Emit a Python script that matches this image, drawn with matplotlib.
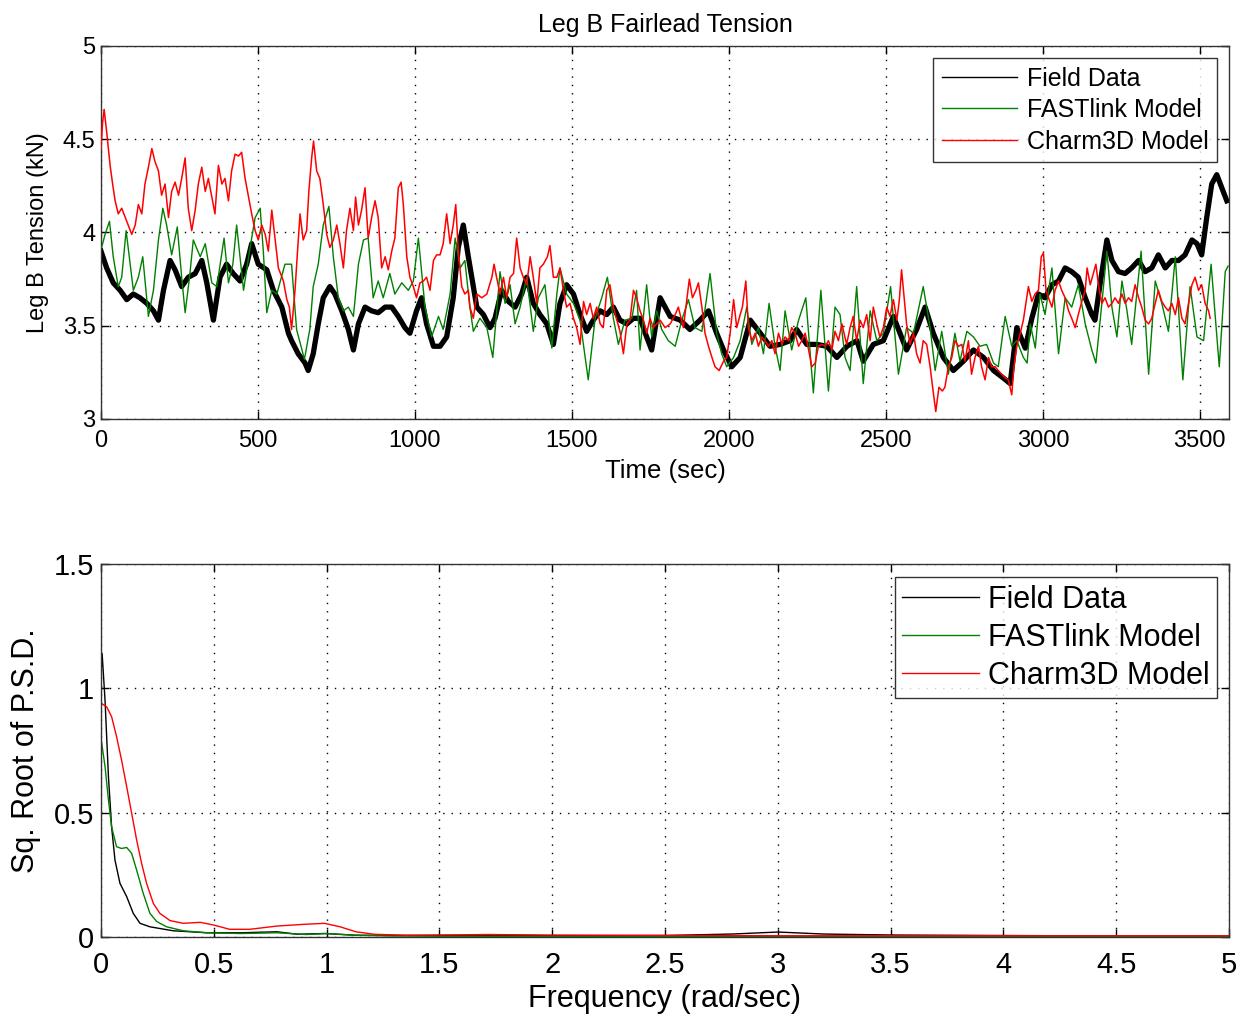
import matplotlib
matplotlib.use("Agg")
import matplotlib.pyplot as plt

plt.rcParams['font.family'] = ['Liberation Sans', 'DejaVu Sans']

# ---------------- Top panel data (time in sec, tension in kN) ----------------
field_t = [0, 18, 39, 61, 82, 103, 124, 146, 167, 183, 199, 220, 236, 257, 278, 300, 321, 337, 358, 379,
           400, 421, 443, 464, 480, 501, 528, 549, 576, 597, 607, 628, 650, 660, 676, 692, 708, 729, 745, 767,
           788, 804, 820, 841, 862, 883, 905, 926, 947, 968, 984, 1005, 1021, 1037, 1059, 1080, 1101, 1122, 1138, 1154,
           1170, 1197, 1218, 1239, 1255, 1276, 1298, 1319, 1340, 1356, 1377, 1398, 1420, 1441, 1462, 1483, 1505, 1526, 1547, 1568,
           1590, 1611, 1632, 1653, 1675, 1696, 1717, 1738, 1754, 1781, 1813, 1845, 1876, 1908, 1935, 1961, 1983, 2009, 2036, 2068,
           2100, 2131, 2163, 2195, 2216, 2248, 2280, 2312, 2344, 2376, 2408, 2428, 2460, 2492, 2524, 2566, 2598, 2625, 2651, 2683,
           2715, 2747, 2779, 2811, 2843, 2874, 2896, 2917, 2944, 2965, 2986, 3007, 3029, 3050, 3071, 3092, 3113, 3135, 3156, 3166,
           3182, 3204, 3220, 3241, 3262, 3283, 3305, 3326, 3347, 3368, 3390, 3411, 3432, 3453, 3475, 3491, 3506, 3522, 3538, 3554,
           3570, 3586]
field_v = [3.90, 3.81, 3.73, 3.69, 3.64, 3.67, 3.65, 3.62, 3.58, 3.53, 3.69, 3.85, 3.80, 3.71, 3.76, 3.78, 3.85, 3.73, 3.53, 3.76,
           3.83, 3.78, 3.74, 3.83, 3.94, 3.83, 3.80, 3.69, 3.60, 3.46, 3.42, 3.35, 3.30, 3.26, 3.35, 3.51, 3.65, 3.71, 3.67, 3.58,
           3.48, 3.37, 3.51, 3.60, 3.58, 3.57, 3.60, 3.60, 3.55, 3.49, 3.46, 3.58, 3.65, 3.51, 3.39, 3.39, 3.44, 3.65, 3.92, 4.04,
           3.87, 3.60, 3.56, 3.49, 3.54, 3.69, 3.63, 3.60, 3.67, 3.76, 3.62, 3.56, 3.51, 3.40, 3.62, 3.72, 3.67, 3.56, 3.47, 3.53,
           3.58, 3.56, 3.60, 3.53, 3.51, 3.54, 3.54, 3.44, 3.37, 3.65, 3.55, 3.53, 3.48, 3.53, 3.58, 3.46, 3.37, 3.28, 3.33, 3.53,
           3.46, 3.39, 3.40, 3.42, 3.48, 3.40, 3.40, 3.39, 3.33, 3.39, 3.42, 3.31, 3.40, 3.42, 3.55, 3.37, 3.48, 3.60, 3.46, 3.33,
           3.26, 3.31, 3.37, 3.33, 3.26, 3.22, 3.19, 3.49, 3.38, 3.54, 3.67, 3.65, 3.72, 3.74, 3.81, 3.79, 3.76, 3.65, 3.56, 3.53,
           3.72, 3.96, 3.85, 3.79, 3.78, 3.81, 3.85, 3.79, 3.81, 3.88, 3.81, 3.85, 3.85, 3.88, 3.96, 3.94, 3.88, 4.08, 4.26, 4.31,
           4.24, 4.17]

fast_t = [2, 13, 27, 39, 55, 66, 80, 93, 103, 119, 133, 151, 167, 183, 197, 209, 225, 243, 257, 268,
          282, 294, 316, 332, 353, 369, 392, 406, 420, 432, 454, 475, 491, 507, 517, 528, 544, 560, 586, 607,
          623, 648, 665, 676, 692, 708, 726, 740, 756, 772, 788, 804, 820, 836, 851, 867, 883, 899, 920, 936,
          958, 979, 995, 1011, 1032, 1053, 1075, 1090, 1112, 1128, 1144, 1159, 1175, 1186, 1207, 1229, 1248, 1271, 1287, 1303,
          1319, 1335, 1356, 1377, 1393, 1414, 1436, 1452, 1462, 1483, 1505, 1526, 1552, 1574, 1595, 1613, 1632, 1648, 1669, 1691,
          1706, 1717, 1738, 1754, 1770, 1786, 1807, 1829, 1850, 1871, 1892, 1914, 1940, 1961, 1977, 1993, 2015, 2036, 2057, 2073,
          2094, 2110, 2128, 2147, 2163, 2179, 2200, 2222, 2245, 2269, 2293, 2317, 2338, 2354, 2370, 2386, 2407, 2428, 2450, 2471,
          2492, 2515, 2540, 2566, 2588, 2619, 2641, 2657, 2678, 2699, 2720, 2736, 2758, 2779, 2800, 2821, 2843, 2858, 2880, 2901,
          2917, 2938, 2950, 2960, 2976, 2991, 3007, 3029, 3050, 3071, 3092, 3113, 3135, 3156, 3169, 3188, 3204, 3220, 3236, 3252,
          3268, 3283, 3313, 3337, 3358, 3379, 3400, 3422, 3446, 3469, 3491, 3512, 3536, 3562, 3581, 3590]
fast_v = [3.92, 3.99, 4.06, 3.87, 3.71, 3.76, 4.01, 3.83, 3.69, 3.76, 3.87, 3.55, 3.69, 3.96, 4.13, 4.04, 3.88, 4.03, 3.76, 3.57,
          3.76, 3.96, 3.87, 3.94, 3.73, 3.71, 3.97, 3.73, 3.83, 4.04, 3.69, 3.92, 4.08, 4.13, 3.90, 3.57, 3.69, 3.67, 3.83, 3.83,
          3.48, 3.32, 3.48, 3.71, 3.83, 4.04, 4.14, 3.87, 3.65, 3.58, 3.60, 3.55, 3.83, 3.96, 3.97, 3.65, 3.74, 3.65, 3.78, 3.67,
          3.73, 3.69, 3.74, 3.97, 3.60, 3.44, 3.55, 3.48, 3.67, 3.97, 3.81, 3.85, 3.60, 3.47, 3.54, 3.49, 3.33, 3.79, 3.62, 3.72,
          3.51, 3.60, 3.76, 3.47, 3.65, 3.72, 3.38, 3.67, 3.81, 3.67, 3.62, 3.53, 3.21, 3.54, 3.65, 3.76, 3.54, 3.40, 3.53, 3.54,
          3.69, 3.37, 3.72, 3.44, 3.58, 3.48, 3.42, 3.39, 3.53, 3.64, 3.49, 3.47, 3.78, 3.46, 3.35, 3.28, 3.33, 3.42, 3.60, 3.40,
          3.49, 3.35, 3.62, 3.39, 3.26, 3.58, 3.37, 3.53, 3.65, 3.14, 3.69, 3.15, 3.60, 3.56, 3.33, 3.26, 3.71, 3.19, 3.58, 3.42,
          3.46, 3.71, 3.24, 3.49, 3.46, 3.71, 3.49, 3.26, 3.47, 3.24, 3.46, 3.31, 3.47, 3.44, 3.39, 3.40, 3.30, 3.28, 3.55, 3.39,
          3.42, 3.33, 3.30, 3.51, 3.38, 3.67, 3.56, 3.81, 3.35, 3.65, 3.60, 3.72, 3.51, 3.37, 3.30, 3.62, 3.90, 3.60, 3.44, 3.74,
          3.58, 3.40, 3.90, 3.24, 3.74, 3.62, 3.47, 3.87, 3.21, 3.71, 3.44, 3.42, 3.83, 3.28, 3.79, 3.82]

charm_t = [0, 5, 10, 18, 29, 37, 45, 55, 66, 82, 98, 109, 119, 130, 140, 151, 162, 172, 183, 193,
           204, 215, 225, 236, 247, 257, 268, 278, 289, 300, 310, 321, 332, 342, 353, 363, 374, 385, 395, 406,
           416, 427, 438, 448, 459, 470, 480, 491, 501, 512, 523, 533, 544, 555, 565, 581, 592, 600, 607, 618,
           626, 634, 644, 655, 662, 671, 677, 687, 697, 708, 719, 729, 740, 751, 761, 772, 782, 793, 804, 811,
           820, 830, 841, 851, 862, 873, 883, 894, 905, 915, 926, 936, 947, 956, 963, 974, 984, 995, 1005, 1016,
           1027, 1037, 1048, 1059, 1069, 1080, 1090, 1101, 1112, 1122, 1130, 1138, 1149, 1159, 1170, 1175, 1186, 1197, 1213, 1229,
           1245, 1252, 1260, 1271, 1282, 1292, 1303, 1314, 1324, 1335, 1345, 1356, 1367, 1377, 1388, 1398, 1409, 1422, 1430, 1441,
           1452, 1462, 1473, 1483, 1494, 1505, 1515, 1526, 1537, 1547, 1558, 1568, 1579, 1590, 1600, 1611, 1621, 1632, 1643, 1653,
           1664, 1675, 1685, 1696, 1706, 1717, 1728, 1738, 1749, 1759, 1781, 1797, 1813, 1829, 1839, 1855, 1866, 1874, 1884, 1895,
           1903, 1914, 1924, 1935, 1946, 1956, 1969, 1983, 1993, 2004, 2015, 2025, 2036, 2043, 2054, 2062, 2073, 2084, 2094, 2105,
           2115, 2126, 2137, 2147, 2158, 2169, 2179, 2190, 2200, 2211, 2222, 2232, 2243, 2254, 2264, 2275, 2285, 2296, 2307, 2317,
           2328, 2338, 2349, 2360, 2375, 2386, 2396, 2407, 2418, 2428, 2439, 2450, 2460, 2471, 2481, 2492, 2503, 2513, 2524, 2535,
           2543, 2550, 2559, 2566, 2577, 2588, 2598, 2609, 2619, 2630, 2641, 2649, 2659, 2669, 2680, 2688, 2699, 2710, 2720, 2731,
           2742, 2752, 2763, 2773, 2784, 2795, 2805, 2816, 2827, 2837, 2848, 2858, 2869, 2880, 2890, 2901, 2908, 2917, 2928, 2938,
           2954, 2965, 2975, 2986, 2995, 3002, 3010, 3018, 3029, 3039, 3050, 3060, 3071, 3082, 3092, 3103, 3113, 3124, 3135, 3141,
           3151, 3161, 3169, 3177, 3188, 3198, 3209, 3220, 3230, 3241, 3252, 3262, 3273, 3283, 3294, 3305, 3315, 3326, 3337, 3347,
           3358, 3368, 3379, 3390, 3400, 3411, 3422, 3432, 3443, 3453, 3464, 3475, 3485, 3496, 3506, 3517, 3528, 3533]
charm_v = [4.45, 4.59, 4.66, 4.54, 4.36, 4.26, 4.17, 4.10, 4.13, 4.06, 3.99, 4.04, 4.15, 4.10, 4.26, 4.35, 4.45, 4.38, 4.33, 4.20,
           4.26, 4.08, 4.22, 4.27, 4.20, 4.29, 4.40, 4.13, 4.01, 4.12, 4.26, 4.35, 4.22, 4.29, 4.19, 4.10, 4.36, 4.26, 4.29, 4.17,
           4.33, 4.42, 4.41, 4.43, 4.29, 4.19, 4.10, 4.01, 3.96, 4.04, 3.99, 3.90, 4.12, 3.96, 3.81, 3.74, 3.64, 3.60, 3.48, 3.69,
           3.90, 4.10, 3.96, 4.01, 4.22, 4.40, 4.49, 4.33, 4.29, 4.15, 3.99, 3.92, 3.96, 4.04, 3.94, 3.81, 4.01, 4.13, 4.01, 4.19,
           4.04, 4.12, 4.24, 3.97, 4.08, 4.17, 4.08, 3.81, 3.87, 3.80, 3.90, 3.97, 4.24, 4.27, 4.15, 3.87, 3.76, 3.71, 3.65, 3.73,
           3.74, 3.76, 3.69, 3.85, 3.88, 3.88, 3.94, 4.10, 3.94, 4.04, 4.15, 3.90, 3.71, 3.67, 3.69, 3.60, 3.54, 3.67, 3.65, 3.67,
           3.76, 3.83, 3.76, 3.67, 3.76, 3.65, 3.76, 3.78, 3.97, 3.81, 3.76, 3.72, 3.87, 3.76, 3.62, 3.81, 3.83, 3.87, 3.93, 3.76,
           3.76, 3.81, 3.69, 3.60, 3.62, 3.54, 3.49, 3.40, 3.63, 3.56, 3.62, 3.54, 3.60, 3.51, 3.49, 3.69, 3.72, 3.60, 3.53, 3.47,
           3.35, 3.51, 3.53, 3.69, 3.65, 3.58, 3.53, 3.46, 3.54, 3.49, 3.53, 3.49, 3.51, 3.56, 3.60, 3.49, 3.64, 3.75, 3.65, 3.69,
           3.73, 3.60, 3.46, 3.39, 3.33, 3.28, 3.26, 3.31, 3.33, 3.46, 3.64, 3.49, 3.56, 3.60, 3.74, 3.49, 3.42, 3.46, 3.39, 3.44,
           3.42, 3.39, 3.42, 3.35, 3.46, 3.40, 3.44, 3.42, 3.49, 3.46, 3.39, 3.42, 3.46, 3.37, 3.28, 3.30, 3.39, 3.40, 3.39, 3.42,
           3.37, 3.47, 3.42, 3.51, 3.40, 3.49, 3.55, 3.42, 3.53, 3.49, 3.56, 3.42, 3.60, 3.51, 3.44, 3.49, 3.60, 3.55, 3.64, 3.53,
           3.64, 3.80, 3.64, 3.51, 3.40, 3.46, 3.35, 3.30, 3.42, 3.40, 3.28, 3.17, 3.04, 3.17, 3.15, 3.17, 3.28, 3.33, 3.42, 3.39,
           3.40, 3.31, 3.42, 3.24, 3.33, 3.39, 3.28, 3.21, 3.33, 3.28, 3.28, 3.26, 3.24, 3.22, 3.21, 3.13, 3.28, 3.39, 3.46, 3.53,
           3.71, 3.63, 3.67, 3.69, 3.87, 3.89, 3.69, 3.65, 3.60, 3.69, 3.74, 3.69, 3.65, 3.58, 3.54, 3.49, 3.56, 3.63, 3.69, 3.81,
           3.72, 3.78, 3.83, 3.72, 3.62, 3.65, 3.60, 3.62, 3.65, 3.62, 3.67, 3.62, 3.65, 3.63, 3.72, 3.65, 3.60, 3.53, 3.51, 3.54,
           3.62, 3.69, 3.63, 3.60, 3.58, 3.62, 3.56, 3.65, 3.54, 3.51, 3.62, 3.72, 3.76, 3.69, 3.72, 3.62, 3.58, 3.54]

# ---------------- Bottom panel data (frequency in rad/sec) ----------------
psd_field_f = [0, 0.005, 0.018, 0.033, 0.047, 0.062, 0.084, 0.114, 0.143, 0.173, 0.217, 0.32, 0.47, 0.62,
               0.78, 0.87, 0.99, 1.13, 1.5, 2.0, 2.5, 2.8, 3.0, 3.2, 3.5, 4.0, 4.5, 5.0]
psd_field_v = [1.05, 1.14, 0.95, 0.645, 0.443, 0.309, 0.216, 0.162, 0.095, 0.055, 0.041, 0.025, 0.017, 0.017,
               0.021, 0.011, 0.014, 0.007, 0.006, 0.005, 0.006, 0.012, 0.02, 0.012, 0.008, 0.006, 0.004, 0.004]
psd_fast_f = [0, 0.018, 0.033, 0.047, 0.069, 0.091, 0.114, 0.136, 0.158, 0.187, 0.217, 0.247, 0.291, 0.365,
              0.47, 0.62, 0.78, 0.91, 1.0, 1.13, 1.28, 1.5, 2.0, 3.0, 4.0, 5.0]
psd_fast_v = [0.80, 0.685, 0.551, 0.443, 0.363, 0.356, 0.36, 0.336, 0.269, 0.176, 0.095, 0.062, 0.041, 0.025,
              0.017, 0.014, 0.017, 0.010, 0.014, 0.007, 0.004, 0.003, 0.003, 0.002, 0.002, 0.002]
psd_charm_f = [0, 0.025, 0.047, 0.069, 0.091, 0.114, 0.136, 0.158, 0.18, 0.202, 0.232, 0.261, 0.306, 0.365,
               0.44, 0.5, 0.57, 0.66, 0.78, 0.9, 0.99, 1.06, 1.13, 1.21, 1.35, 1.72, 2.0, 3.0, 4.0, 5.0]
psd_charm_v = [0.94, 0.926, 0.886, 0.806, 0.712, 0.604, 0.497, 0.39, 0.296, 0.216, 0.135, 0.095, 0.066, 0.055,
               0.059, 0.048, 0.031, 0.031, 0.044, 0.051, 0.055, 0.041, 0.021, 0.011, 0.007, 0.010, 0.008, 0.005, 0.005, 0.005]

series_labels = ['Field Data', 'FASTlink Model', 'Charm3D Model']
top_xticks = [0, 500, 1000, 1500, 2000, 2500, 3000, 3500]
top_yticks = [3, 3.5, 4, 4.5, 5]
top_yticklabels = ['3', '3.5', '4', '4.5', '5']
bot_xticks = [0, 0.5, 1, 1.5, 2, 2.5, 3, 3.5, 4, 4.5, 5]
bot_xticklabels = ['0', '0.5', '1', '1.5', '2', '2.5', '3', '3.5', '4', '4.5', '5']
bot_yticks = [0, 0.5, 1, 1.5]
bot_yticklabels = ['0', '0.5', '1', '1.5']

GREEN = (0.0, 0.5, 0.0)
W, H = 1250, 1016
fig = plt.figure(figsize=(W / 100, H / 100), dpi=100)

def ax_rect(l, t, r, b):
    return [l / W, 1 - b / H, (r - l) / W, (b - t) / H]

def style(ax, fs, xpad, ypad):
    ax.tick_params(direction='in', top=True, right=True, length=6, width=1, labelsize=fs)
    ax.tick_params(axis='x', pad=xpad)
    ax.tick_params(axis='y', pad=ypad)
    ax.grid(True, color='black', linestyle=(0, (1, 5)), linewidth=1.0)
    for s in ax.spines.values():
        s.set_linewidth(1.0)
        s.set_color('#333333')

# Top panel
ax1 = fig.add_axes(ax_rect(101, 46, 1229, 419))
ax1.plot(field_t, field_v, color='black', lw=3.8, label=series_labels[0], zorder=2)
ax1.plot(fast_t, fast_v, color=GREEN, lw=1.0, label=series_labels[1], zorder=3)
ax1.plot(charm_t, charm_v, color='red', lw=1.1, label=series_labels[2], zorder=4)
ax1.set_xlim(0, 3593)
ax1.set_ylim(3, 5)
ax1.set_xticks(top_xticks)
ax1.set_xticklabels([str(v) for v in top_xticks])
ax1.set_yticks(top_yticks)
ax1.set_yticklabels(top_yticklabels)
style(ax1, 17, 8, 4)
ax1.set_xlabel('Time (sec)', fontsize=18.5, labelpad=5)
ax1.set_ylabel('Leg B Tension (kN)', fontsize=17, labelpad=10)
ax1.set_title('Leg B Fairlead Tension', fontsize=18, pad=10)
leg1 = ax1.legend(loc='upper right', fontsize=18, frameon=True, fancybox=False, edgecolor='black',
                  handlelength=3.0, borderpad=0.35, labelspacing=0.3, handletextpad=0.4,
                  borderaxespad=0.0, bbox_to_anchor=(0.9894, 0.968))
leg1.get_frame().set_linewidth(1.0)
for h in leg1.get_lines():
    h.set_linewidth(1.0)

# Bottom panel
ax2 = fig.add_axes(ax_rect(101, 564, 1229, 937))
ax2.plot(psd_field_f, psd_field_v, color='black', lw=1.0, label=series_labels[0])
ax2.plot(psd_fast_f, psd_fast_v, color=GREEN, lw=1.0, label=series_labels[1])
ax2.plot(psd_charm_f, psd_charm_v, color='red', lw=1.0, label=series_labels[2])
ax2.set_xlim(0, 5)
ax2.set_ylim(0, 1.5)
ax2.set_xticks(bot_xticks)
ax2.set_xticklabels(bot_xticklabels)
ax2.set_yticks(bot_yticks)
ax2.set_yticklabels(bot_yticklabels)
style(ax2, 21, 10, 5)
ax2.set_xlabel('Frequency (rad/sec)', fontsize=22, labelpad=4)
ax2.set_ylabel('Sq. Root of P.S.D.', fontsize=22, labelpad=9)
leg2 = ax2.legend(loc='upper right', fontsize=22, frameon=True, fancybox=False, edgecolor='black',
                  handlelength=2.5, borderpad=0.25, labelspacing=0.26, handletextpad=0.3,
                  borderaxespad=0.0, bbox_to_anchor=(0.9894, 0.965))
leg2.get_frame().set_linewidth(1.0)

fig.savefig('out.png', dpi=100, facecolor='white')
